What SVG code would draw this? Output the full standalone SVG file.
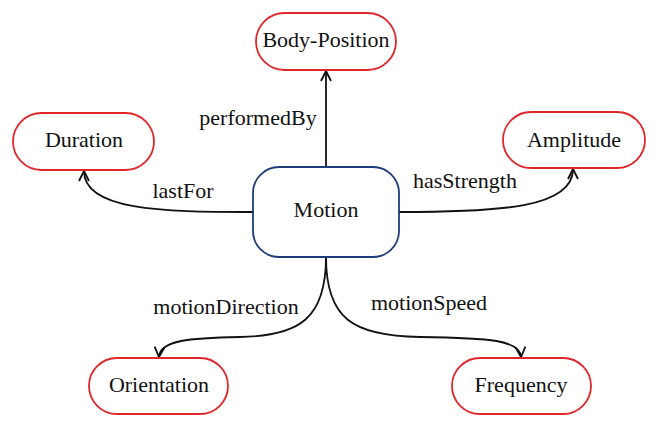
<svg xmlns="http://www.w3.org/2000/svg" width="658" height="429" viewBox="0 0 658 429">
<style>
.t{font-size:22px;fill:#111;text-anchor:middle}
.leaf{fill:#fff;stroke:#e0262a;stroke-width:1.8}
.hub{fill:#fff;stroke:#1f3c7a;stroke-width:1.8}
.c{fill:none;stroke:#111;stroke-width:1.8}
</style>
<defs>
<marker id="a" viewBox="0 0 12 12" refX="11" refY="6" markerWidth="12" markerHeight="12" markerUnits="userSpaceOnUse" orient="auto">
<path d="M1,1 L11,6 L1,11" fill="none" stroke="#111" stroke-width="1.8"/>
</marker>
</defs>
<rect width="658" height="429" fill="#fff"/>
<g font-family="'Liberation Serif', 'DejaVu Serif', serif">
<g id="connectors">
<path class="c" d="M326,167 L326,71" marker-end="url(#a)"/>
<path class="c" d="M253,212 C160,212 84,210 84,171" marker-end="url(#a)"/>
<path class="c" d="M399,212 C500,212 573,208 573,169" marker-end="url(#a)"/>
<path class="c" d="M326,257 C326,318 300,336 240,337 C190,338 160,340 159,357" marker-end="url(#a)"/>
<path class="c" d="M326,257 C326,318 352,336 420,337 C490,338 520,340 521,357" marker-end="url(#a)"/>
<text class="t" x="258" y="125">performedBy</text>
<text class="t" x="183" y="198">lastFor</text>
<text class="t" x="465" y="188">hasStrength</text>
<text class="t" x="226" y="314">motionDirection</text>
<text class="t" x="429" y="310">motionSpeed</text>
</g>
<g id="motion"><rect class="hub" x="253" y="167" width="146" height="90" rx="26"/><text class="t" x="326" y="217">Motion</text></g>
<g id="body-position"><rect class="leaf" x="256" y="13" width="140" height="57" rx="28.5"/><text class="t" x="326" y="47">Body-Position</text></g>
<g id="duration"><rect class="leaf" x="13" y="113" width="141" height="57" rx="28.5"/><text class="t" x="84" y="147">Duration</text></g>
<g id="amplitude"><rect class="leaf" x="503" y="112" width="142" height="56" rx="28"/><text class="t" x="574" y="147">Amplitude</text></g>
<g id="orientation"><rect class="leaf" x="89" y="358" width="139" height="56" rx="28"/><text class="t" x="159" y="392">Orientation</text></g>
<g id="frequency"><rect class="leaf" x="452" y="358" width="139" height="56" rx="28"/><text class="t" x="521" y="392">Frequency</text></g>
</g>
</svg>
